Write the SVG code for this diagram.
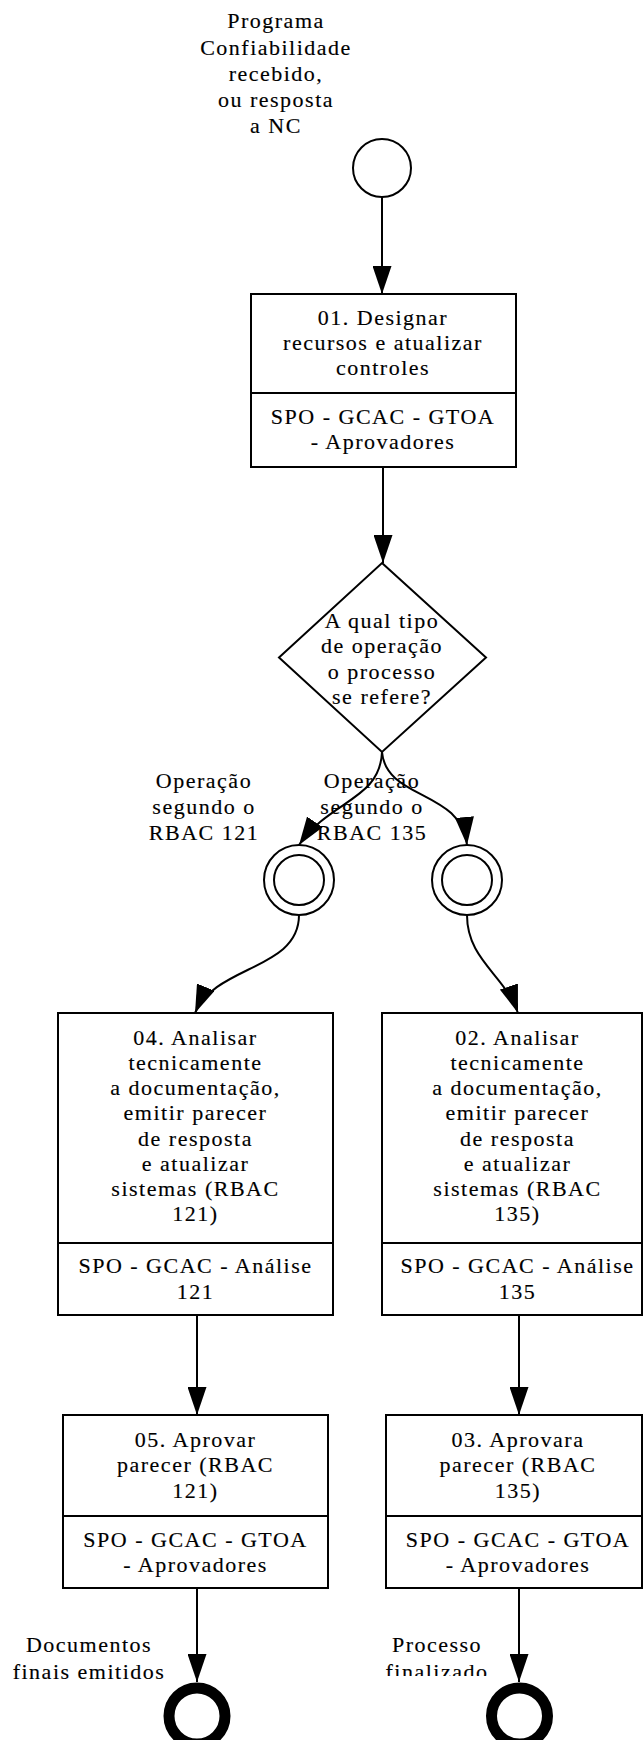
<svg xmlns="http://www.w3.org/2000/svg" width="644" height="1740" viewBox="0 0 644 1740">
<style>
text{font-family:"Liberation Serif","DejaVu Serif",serif;font-size:22px;letter-spacing:1.5px;fill:#000;stroke:#000;stroke-width:0.15px;text-anchor:middle}
.box{fill:#fff;stroke:#000;stroke-width:2}
.div{stroke:#000;stroke-width:2}
.ev{fill:#fff;stroke:#000;stroke-width:2}
.end{fill:#fff;stroke:#000;stroke-width:11}
.conn{fill:none;stroke:#000;stroke-width:2;marker-end:url(#arr)}
</style>
<defs>
<marker id="arr" markerUnits="userSpaceOnUse" viewBox="0 0 28 19" refX="28" refY="9.5" markerWidth="28" markerHeight="19" orient="auto">
<path d="M0,0 L28,9.5 L0,19 z" fill="#000"/>
</marker>
<clipPath id="clipFin"><rect x="360" y="1620" width="160" height="56"/></clipPath>
</defs>
<g id="connectors">
<path class="conn" d="M382,197 L382,294"/>
<path class="conn" d="M383,467 L383,563"/>
<path class="conn" d="M382,752 C380,800 330,800 299,845"/>
<path class="conn" d="M382,752 C386,800 462,790 467,845"/>
<path class="conn" d="M299,915 C299,970 215,965 195,1013"/>
<path class="conn" d="M467,915 C467,960 505,975 518,1013"/>
<path class="conn" d="M197,1315 L197,1415"/>
<path class="conn" d="M519,1315 L519,1415"/>
<path class="conn" d="M197,1588 L197,1682"/>
<path class="conn" d="M519,1588 L519,1682"/>
</g>
<g id="start">
<circle class="ev" cx="382" cy="168" r="29"/>
<text x="276" y="28.3">Programa</text>
<text x="276" y="54.5">Confiabilidade</text>
<text x="276" y="80.7">recebido,</text>
<text x="276" y="106.9">ou resposta</text>
<text x="276" y="133.1">a NC</text>
</g>
<g id="task01">
<rect class="box" x="251" y="294" width="265" height="173"/>
<line class="div" x1="251" y1="393" x2="516" y2="393"/>
<text x="383" y="325">01. Designar</text>
<text x="383" y="350.2">recursos e atualizar</text>
<text x="383" y="375.4">controles</text>
<text x="383" y="424">SPO - GCAC - GTOA</text>
<text x="383" y="449">- Aprovadores</text>
</g>
<g id="gateway">
<polygon class="ev" points="382,563 486,657.5 382,752 279,657.5"/>
<text x="382" y="627.5">A qual tipo</text>
<text x="382" y="653">de operação</text>
<text x="382" y="678.5">o processo</text>
<text x="382" y="704">se refere?</text>
</g>
<g id="label121">
<text x="204" y="788">Operação</text>
<text x="204" y="814">segundo o</text>
<text x="204" y="840">RBAC 121</text>
</g>
<g id="label135">
<text x="372" y="788">Operação</text>
<text x="372" y="814">segundo o</text>
<text x="372" y="840">RBAC 135</text>
</g>
<g id="event121">
<circle class="ev" cx="299" cy="880" r="35"/>
<circle class="ev" cx="299" cy="880" r="25"/>
</g>
<g id="event135">
<circle class="ev" cx="467" cy="880" r="35"/>
<circle class="ev" cx="467" cy="880" r="25"/>
</g>
<g id="task04">
<rect class="box" x="58" y="1013" width="275" height="302"/>
<line class="div" x1="58" y1="1243" x2="333" y2="1243"/>
<text x="195.5" y="1045">04. Analisar</text>
<text x="195.5" y="1070.1">tecnicamente</text>
<text x="195.5" y="1095.3">a documentação,</text>
<text x="195.5" y="1120.4">emitir parecer</text>
<text x="195.5" y="1145.6">de resposta</text>
<text x="195.5" y="1170.7">e atualizar</text>
<text x="195.5" y="1195.9">sistemas (RBAC</text>
<text x="195.5" y="1221">121)</text>
<text x="195.5" y="1273">SPO - GCAC - Análise</text>
<text x="195.5" y="1298.5">121</text>
</g>
<g id="task02">
<rect class="box" x="382" y="1013" width="260" height="302"/>
<line class="div" x1="382" y1="1243" x2="642" y2="1243"/>
<text x="517.5" y="1045">02. Analisar</text>
<text x="517.5" y="1070.1">tecnicamente</text>
<text x="517.5" y="1095.3">a documentação,</text>
<text x="517.5" y="1120.4">emitir parecer</text>
<text x="517.5" y="1145.6">de resposta</text>
<text x="517.5" y="1170.7">e atualizar</text>
<text x="517.5" y="1195.9">sistemas (RBAC</text>
<text x="517.5" y="1221">135)</text>
<text x="517.5" y="1273">SPO - GCAC - Análise</text>
<text x="517.5" y="1298.5">135</text>
</g>
<g id="task05">
<rect class="box" x="63" y="1415" width="265" height="173"/>
<line class="div" x1="63" y1="1516" x2="328" y2="1516"/>
<text x="195.5" y="1447">05. Aprovar</text>
<text x="195.5" y="1472.3">parecer (RBAC</text>
<text x="195.5" y="1497.5">121)</text>
<text x="195.5" y="1547">SPO - GCAC - GTOA</text>
<text x="195.5" y="1572">- Aprovadores</text>
</g>
<g id="task03">
<rect class="box" x="386" y="1415" width="256" height="173"/>
<line class="div" x1="386" y1="1516" x2="642" y2="1516"/>
<text x="518" y="1447">03. Aprovara</text>
<text x="518" y="1472.3">parecer (RBAC</text>
<text x="518" y="1497.5">135)</text>
<text x="518" y="1547">SPO - GCAC - GTOA</text>
<text x="518" y="1572">- Aprovadores</text>
</g>
<g id="end121">
<circle class="end" cx="197" cy="1716" r="28"/>
<text x="89" y="1652">Documentos</text>
<text x="89" y="1679">finais emitidos</text>
</g>
<g id="end135">
<circle class="end" cx="519.5" cy="1716" r="28"/>
<g clip-path="url(#clipFin)">
<text x="437" y="1652">Processo</text>
<text x="437" y="1679">finalizado</text>
</g>
</g>
</svg>
